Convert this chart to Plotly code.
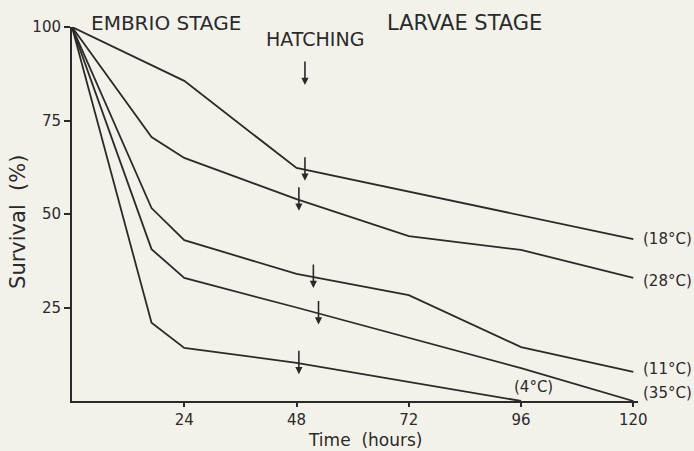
import numpy as np
import plotly.graph_objects as go

# ---- data ----
series_names = ["(18°C)", "(28°C)", "(11°C)", "(35°C)", "(4°C)"]
t18 = [0, 24, 48, 120]
v18 = [100, 85.6, 62.3, 43.3]
t28 = [0, 17, 24, 48, 72, 96, 120]
v28 = [100, 70.6, 65.0, 54.0, 44.1, 40.4, 32.9]
t11 = [0, 17, 24, 48, 72, 96, 120]
v11 = [100, 51.6, 43.0, 34.0, 28.3, 14.4, 7.8]
t35 = [0, 17, 24, 48, 96, 120]
v35 = [100, 40.6, 32.9, 25.0, 8.8, 0]
t4 = [0, 17, 24, 48, 96]
v4 = [100, 20.9, 14.2, 10.2, 0]
hatch_hours = [49.8, 48.5, 51.6, 52.7, 48.5]

x_ticks = [24, 48, 72, 96, 120]
y_ticks = [25, 50, 75, 100]

times = [t18, t28, t11, t35, t4]
values = [v18, v28, v11, v35, v4]

INK = "#2a2a2a"
BG = "#f3f2ea"
FONT = "DejaVu Sans"

fig = go.Figure()
for name, t, v in zip(series_names, times, values):
    fig.add_trace(go.Scatter(x=t, y=v, mode="lines", name=name,
                             line=dict(color=INK, width=1.8),
                             cliponaxis=False, showlegend=False, hoverinfo="skip"))

annotations = []
# end labels
label_cfg = {
    "(18°C)": dict(xanchor="left", yanchor="middle", xshift=8, yshift=0),
    "(28°C)": dict(xanchor="left", yanchor="middle", xshift=8, yshift=-3),
    "(11°C)": dict(xanchor="left", yanchor="middle", xshift=8, yshift=3),
    "(35°C)": dict(xanchor="left", yanchor="middle", xshift=8, yshift=8),
    "(4°C)": dict(xanchor="center", yanchor="bottom", xshift=12, yshift=3),
}
for name, t, v in zip(series_names, times, values):
    annotations.append(dict(x=t[-1], y=v[-1], text=name, showarrow=False,
                            font=dict(family=FONT, size=15, color=INK),
                            **label_cfg[name]))

# hatching arrows on each curve
for t, v, h in zip(times, values, hatch_hours):
    yv = float(np.interp(h, t, v))
    annotations.append(dict(x=h, y=yv, text="", showarrow=True,
                            ax=0, ay=-25, yshift=-11,
                            arrowhead=2, arrowsize=0.9, arrowwidth=1.6,
                            arrowcolor=INK))

# stage texts and axis titles
annotations += [
    dict(x=3.6, y=1.012, yref="paper", text="EMBRIO STAGE", showarrow=False,
         xanchor="left", yanchor="middle", font=dict(family=FONT, size=20, color=INK)),
    dict(x=41.0, y=96.8, text="HATCHING", showarrow=False, xanchor="left",
         yanchor="middle", font=dict(family=FONT, size=19, color=INK)),
    dict(x=67.0, y=1.011, yref="paper", text="LARVAE STAGE", showarrow=False,
         xanchor="left", yanchor="middle", font=dict(family=FONT, size=21, color=INK)),
    dict(x=49.8, y=84.5, text="", showarrow=True, ax=0, ay=-25,
         arrowhead=2, arrowsize=0.9, arrowwidth=1.6, arrowcolor=INK),
    dict(x=62.7, y=-0.105, yref="paper", text="Time  (hours)", showarrow=False,
         xanchor="center", yanchor="middle", font=dict(family=FONT, size=17, color=INK)),
    dict(x=-0.0955, xref="paper", y=0.4786, yref="paper", text="Survival  (%)",
         textangle=-90, showarrow=False, xanchor="center", yanchor="middle",
         font=dict(family=FONT, size=21, color=INK)),
]

fig.update_layout(
    width=694, height=451,
    margin=dict(l=72, r=56, t=27, b=50, pad=0),
    paper_bgcolor=BG, plot_bgcolor=BG,
    font=dict(family=FONT, color=INK, size=16),
    annotations=annotations,
    hovermode=False,
    xaxis=dict(range=[0, 121], tickvals=x_ticks, ticktext=[str(x) for x in x_ticks],
               showgrid=False, zeroline=False, showline=True, linecolor=INK,
               linewidth=2, ticks="outside", ticklen=4, tickwidth=1.5,
               tickcolor=INK, tickfont=dict(size=15, family=FONT, color=INK),
               automargin=False),
    yaxis=dict(range=[0, 100], tickvals=y_ticks, ticktext=[str(y) for y in y_ticks],
               showgrid=False, zeroline=False, showline=True, linecolor=INK,
               linewidth=2, ticks="outside", ticklen=6, tickwidth=1.5,
               tickcolor=INK, tickfont=dict(size=15, family=FONT, color=INK),
               automargin=False),
)

fig.write_html("out.html", config={"displayModeBar": False},
               post_script="document.body.style.margin='0';document.body.style.background='%s';" % BG)
